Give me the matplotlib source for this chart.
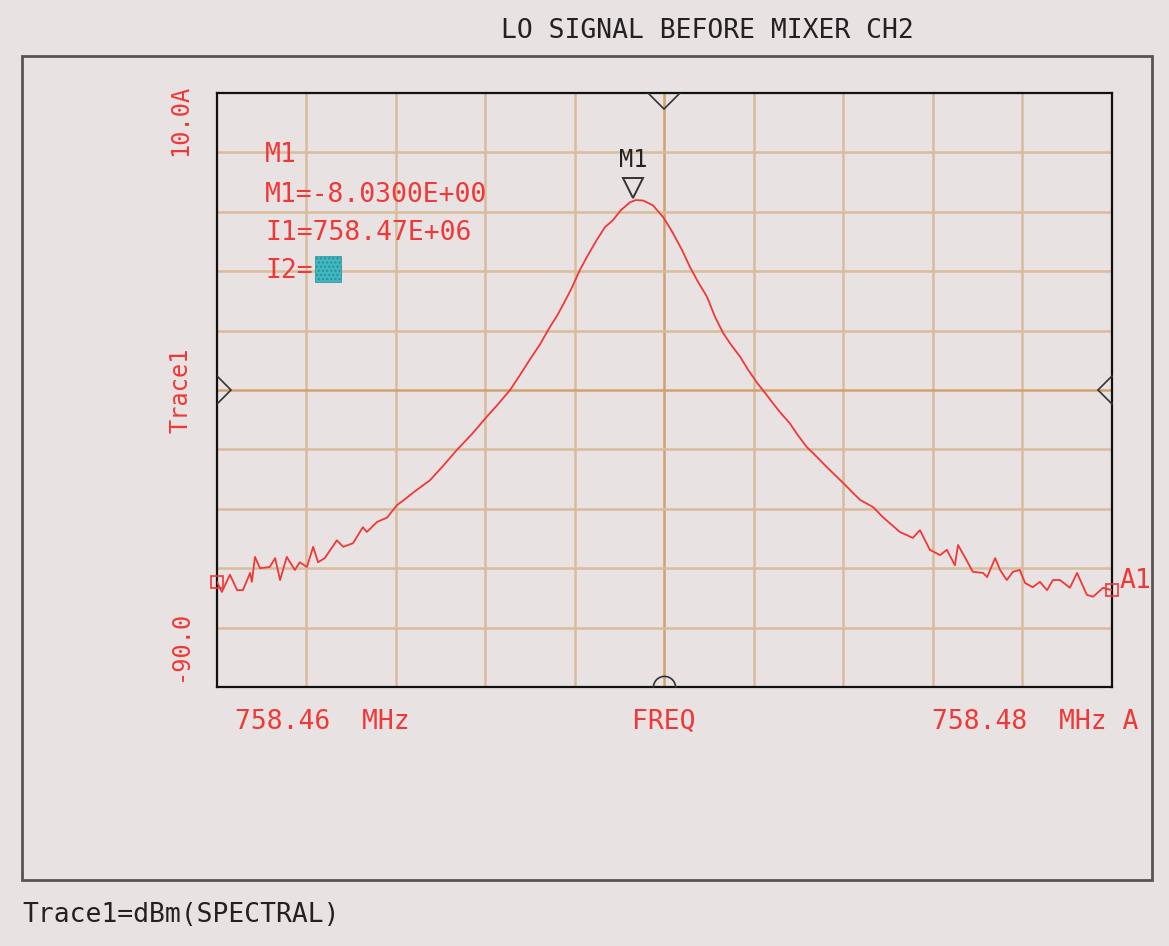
import numpy as np
import matplotlib.pyplot as plt
from matplotlib.patches import Rectangle

# trace: offset from 758.46 MHz in kHz, level in dBm
freq_khz = [0.00, 0.11, 0.29, 0.45, 0.58, 0.74, 0.78, 0.85, 0.96, 1.18, 1.30, 1.41,
            1.56, 1.74, 1.85, 2.01, 2.15, 2.26, 2.41, 2.68, 2.82, 3.04, 3.26, 3.35,
            3.58, 3.80, 4.02, 4.20, 4.38, 4.56, 4.76, 5.05, 5.36, 5.70, 6.03, 6.28,
            6.55, 6.77, 6.99, 7.22, 7.44, 7.60, 7.73, 7.93, 8.11, 8.29, 8.49, 8.67,
            8.85, 9.03, 9.23, 9.36, 9.52, 9.74, 9.97, 10.08, 10.19, 10.39, 10.57,
            10.75, 10.95, 11.13, 11.31, 11.49, 11.69, 11.87, 12.07, 12.25, 12.42,
            12.60, 12.80, 12.98, 13.18, 13.41, 13.63, 13.85, 14.08, 14.21, 14.37,
            14.66, 14.88, 15.26, 15.55, 15.71, 15.93, 16.16, 16.31, 16.49, 16.56,
            16.71, 16.89, 17.12, 17.21, 17.39, 17.50, 17.65, 17.79, 17.94, 18.06,
            18.23, 18.39, 18.55, 18.68, 18.84, 19.06, 19.22, 19.44, 19.58, 19.80, 20.00]
level_dbm = [-72.3, -74.0, -71.1, -73.7, -73.7, -70.8, -72.3, -68.1, -70.0, -69.8, -68.3, -72.0,
             -68.1, -70.3, -69.0, -69.8, -66.4, -69.0, -68.3, -65.3, -66.4, -65.8, -63.1, -63.9,
             -62.2, -61.5, -59.4, -58.4, -57.3, -56.3, -55.2, -52.8, -50.1, -47.4, -44.5, -42.4,
             -40.0, -37.5, -34.9, -32.3, -29.4, -27.5, -25.7, -22.8, -19.8, -17.3, -14.7, -12.6,
             -11.4, -9.7, -8.4, -8.03, -8.1, -8.9, -10.9, -12.2, -13.6, -16.4, -19.3,
             -21.8, -24.3, -27.7, -30.4, -32.4, -34.4, -36.6, -38.8, -40.5, -42.2,
             -43.9, -45.6, -47.6, -49.6, -51.3, -53.0, -54.6, -56.3, -57.3, -58.5,
             -59.7, -61.4, -63.9, -64.9, -63.6, -66.9, -67.8, -66.9, -69.5, -66.1,
             -68.1, -70.6, -70.8, -71.5, -68.3, -70.3, -72.0, -70.6, -70.3, -72.5,
             -73.2, -72.3, -73.7, -72.0, -72.0, -73.3, -70.8, -74.5, -74.8, -73.3, -73.7]

start_mhz = 758.46
stop_mhz = 758.48
ref_top = 10.0
ref_bottom = -90.0
marker_khz = 9.30
marker_dbm = -8.03

bg = '#e8e2e2'
red = '#f03838'
grid_c = '#d9bc9c'
center_c = '#d2a26e'
mono = 'DejaVu Sans Mono'

freq = start_mhz + np.array(freq_khz) / 1000.0
mk_f = start_mhz + marker_khz / 1000.0

fig = plt.figure(figsize=(11.69, 9.46), dpi=100, facecolor=bg)
ax = fig.add_axes([0.1856, 0.2738, 0.7656, 0.6279], facecolor=bg)

ax.set_xlim(start_mhz, stop_mhz)
ax.set_ylim(ref_bottom, ref_top)
xt = np.linspace(start_mhz, stop_mhz, 11)
yt = np.linspace(ref_bottom, ref_top, 11)
for v in xt[1:-1]:
    ax.axvline(v, color=center_c if abs(v - xt[5]) < 1e-9 else grid_c, lw=1.8, zorder=1)
for v in yt[1:-1]:
    ax.axhline(v, color=center_c if abs(v - yt[5]) < 1e-9 else grid_c, lw=1.8, zorder=1)
ax.set_xticks([])
ax.set_yticks([])
for s in ax.spines.values():
    s.set_color('#111111')
    s.set_linewidth(1.6)

ax.plot(freq, level_dbm, color=red, lw=1.3, zorder=3)
ax.plot([freq[0], freq[-1]], [level_dbm[0], level_dbm[-1]], ls='none', marker='s', ms=8,
        mfc='none', mec=red, mew=1.2, clip_on=False, zorder=4)

# marker M1
ax.plot([mk_f], [marker_dbm + 2.0], marker='v', ms=15, mfc='none', mec='#333333', mew=1.4, zorder=4)
ax.text(mk_f, marker_dbm + 4.8, 'M1', family=mono, fontsize=17, color='#222222',
        ha='center', va='bottom')

# reference indicators clipped at the frame
cx = xt[5]
ax.plot([cx], [ref_top], marker='D', ms=16, mfc='none', mec='#333333', mew=1.2, zorder=4)
ax.plot([cx], [ref_bottom], marker='o', ms=16, mfc='none', mec='#333333', mew=1.2, zorder=4)
ax.plot([start_mhz], [yt[5]], marker='D', ms=14, mfc='none', mec='#333333', mew=1.2, zorder=4)
ax.plot([stop_mhz], [yt[5]], marker='D', ms=14, mfc='none', mec='#333333', mew=1.2, zorder=4)

# marker readout
fs = 19
ax.text(0.054, 0.896, 'M1', transform=ax.transAxes, family=mono, fontsize=fs, color=red, va='center')
ax.text(0.054, 0.829, 'M1=-8.0300E+00', transform=ax.transAxes, family=mono, fontsize=fs, color=red, va='center')
ax.text(0.054, 0.764, 'I1=758.47E+06', transform=ax.transAxes, family=mono, fontsize=fs, color=red, va='center')
ax.text(0.054, 0.700, 'I2=', transform=ax.transAxes, family=mono, fontsize=fs, color=red, va='center')
ax.add_patch(Rectangle((0.109, 0.681), 0.030, 0.045, transform=ax.transAxes,
                       facecolor='#3fb8c0', edgecolor='#2a8f9a', hatch='....', lw=0.5, zorder=5))
ax.text(1.008, 0.178, 'A1', transform=ax.transAxes, family=mono, fontsize=fs, color=red, va='center')

# axis annotations
fig.text(180 / 1169, 1 - 120 / 946, '10.0A', family=mono, fontsize=17, color=red,
         rotation=90, ha='center', va='center')
fig.text(180 / 1169, 1 - 390 / 946, 'Trace1', family=mono, fontsize=17, color=red,
         rotation=90, ha='center', va='center')
fig.text(180 / 1169, 1 - 645 / 946, '-90.0', family=mono, fontsize=17, color=red,
         rotation=90, ha='center', va='center')
fig.text(235 / 1169, 1 - 722 / 946, '758.46  MHz', family=mono, fontsize=fs, color=red, va='center')
fig.text(664 / 1169, 1 - 722 / 946, 'FREQ', family=mono, fontsize=fs, color=red, ha='center', va='center')
fig.text(932 / 1169, 1 - 722 / 946, '758.48  MHz A', family=mono, fontsize=fs, color=red, va='center')

fig.text(707 / 1169, 1 - 31 / 946, 'LO SIGNAL BEFORE MIXER CH2', family=mono, fontsize=fs,
         color='#222222', ha='center', va='center')
fig.text(22 / 1169, 1 - 915 / 946, 'Trace1=dBm(SPECTRAL)', family=mono, fontsize=fs,
         color='#222222', va='center')

# outer window frame
fig.add_artist(Rectangle((22 / 1169, 1 - 880 / 946), 1130 / 1169, 824 / 946,
                         transform=fig.transFigure, fill=False, edgecolor='#555555', lw=2))

fig.savefig('out.png', dpi=100, facecolor=bg)
